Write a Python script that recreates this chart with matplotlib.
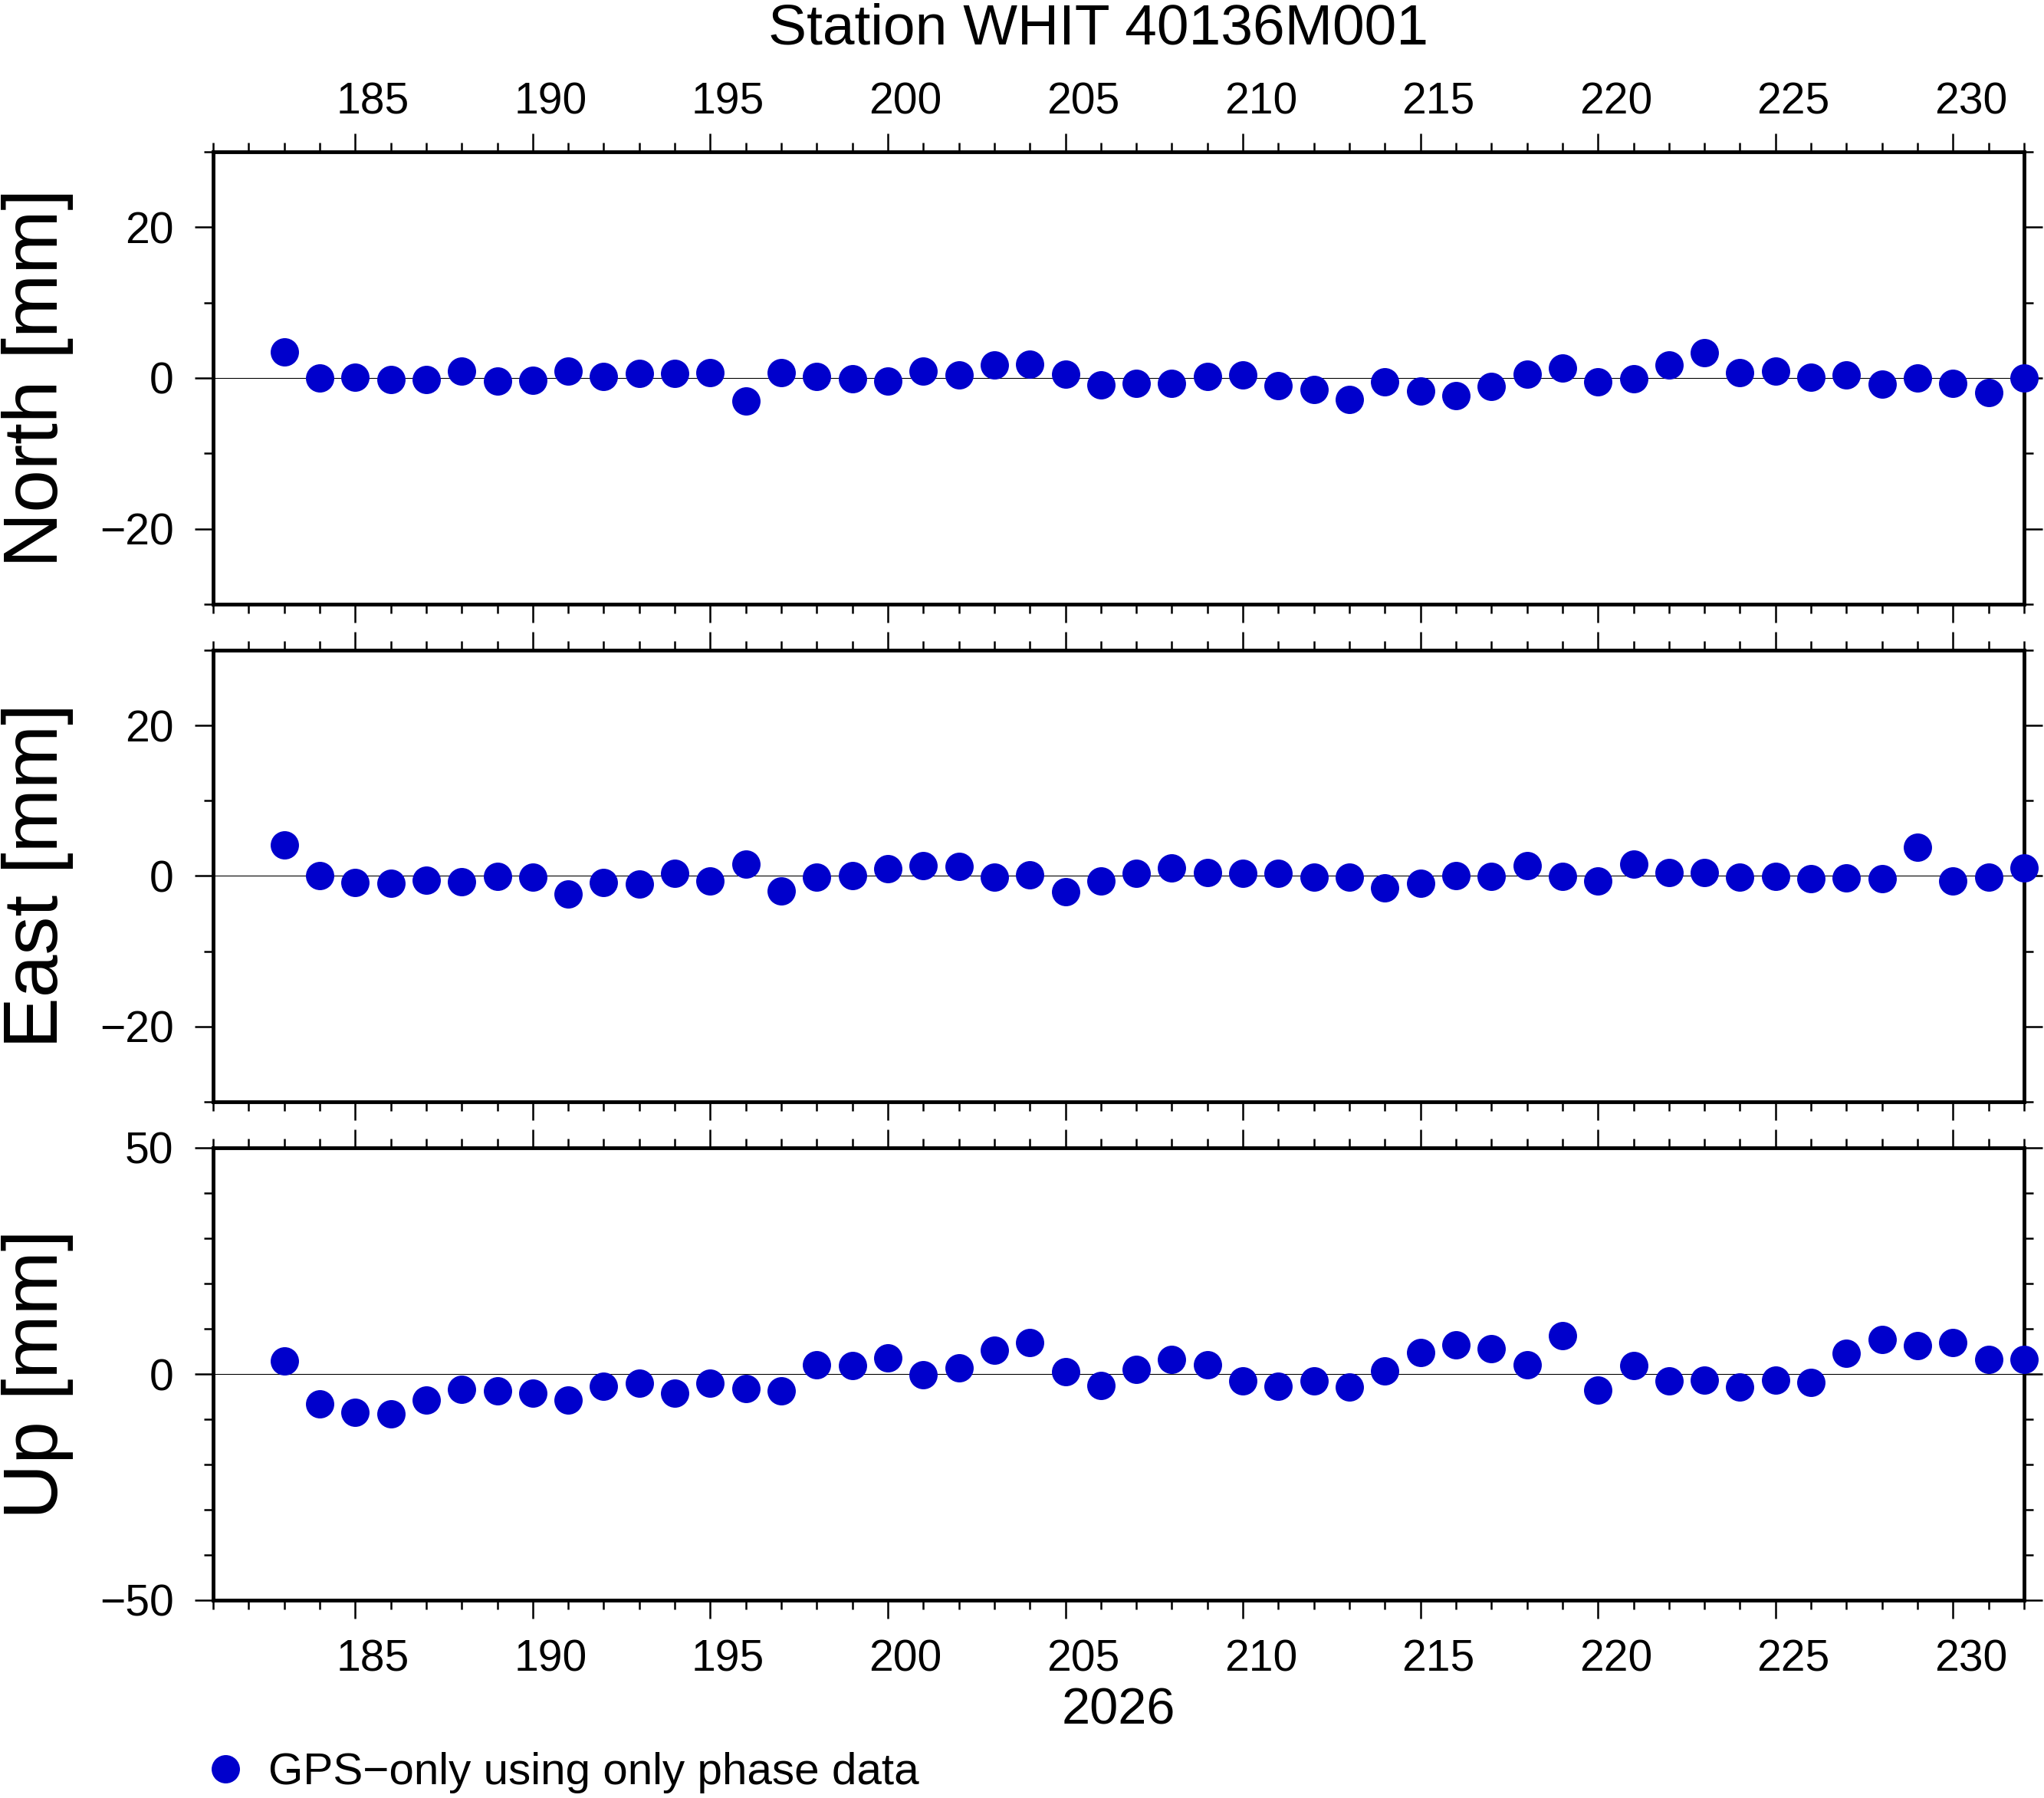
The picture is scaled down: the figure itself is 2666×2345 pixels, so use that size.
import matplotlib
matplotlib.use('Agg')
import matplotlib.pyplot as plt
import matplotlib.transforms as mtransforms
from matplotlib.ticker import MultipleLocator

plt.rcParams['font.family'] = ['Liberation Sans', 'DejaVu Sans']

# Дані станції (доба року 2026)
days = list(range(183, 233))
north = [3.5, 0.0, 0.1, -0.2, -0.2, 0.9, -0.4, -0.3, 0.9, 0.2, 0.6, 0.6, 0.7,
         -3.0, 0.7, 0.2, -0.1, -0.4, 0.9, 0.4, 1.7, 1.8, 0.5, -0.9,
         -0.7, -0.7, 0.2, 0.4, -1.0, -1.5, -2.8, -0.5, -1.7, -2.3, -1.1, 0.5,
         1.3, -0.5, -0.1, 1.7, 3.4, 0.7, 0.9, 0.1, 0.4, -0.8, 0.0, -0.7, -1.9, 0.0]
east = [4.1, 0.0, -0.9, -1.0, -0.6, -0.8, -0.1, -0.2, -2.4, -0.9, -1.1, 0.4, -0.7,
        1.6, -2.0, -0.2, 0.1, 1.0, 1.4, 1.3, -0.2, 0.2, -2.1, -0.7,
        0.4, 1.1, 0.5, 0.4, 0.4, -0.2, -0.2, -1.6, -1.0, 0.0, -0.1, 1.4,
        -0.1, -0.7, 1.6, 0.5, 0.5, -0.2, -0.1, -0.4, -0.3, -0.4, 3.8, -0.7, -0.2, 1.1]
up = [2.9, -6.6, -8.5, -8.8, -5.7, -3.4, -3.7, -4.2, -5.7, -2.7, -2.0, -4.2, -2.0,
      -3.2, -3.8, 2.1, 1.9, 3.5, -0.1, 1.4, 5.3, 7.0, 0.5, -2.5,
      1.1, 3.2, 2.1, -1.6, -2.7, -1.6, -2.9, 0.7, 4.7, 6.5, 5.6, 2.1,
      8.5, -3.6, 1.9, -1.6, -1.3, -2.9, -1.3, -1.8, 4.6, 7.7, 6.3, 7.0, 3.3, 3.3]

station = 'Station WHIT 40136M001'
year = '2026'
series_label = 'GPS\u2212only using only phase data'
panel_names = ['North [mm]', 'East [mm]', 'Up [mm]']
y_limits = [(-30, 30), (-30, 30), (-50, 50)]
y_major = [20, 20, 50]
x_limits = (181, 232)
x_label_days = list(range(185, 231, 5))

W, H = 2666, 2345
fig = plt.figure(figsize=(W / 100, H / 100), dpi=100)

left = 278 / W
width = (2640 - 278) / W
panel_px = [(198, 788), (848, 1437), (1497, 2087)]
axes = []
for top, bot in panel_px:
    axes.append(fig.add_axes([left, 1 - bot / H, width, (bot - top) / H]))

series = [north, east, up]
handle = None
for i, ax in enumerate(axes):
    ax.axhline(0, color='black', lw=0.8, zorder=1)
    h, = ax.plot(days, series[i], linestyle='none', marker='o', ms=26.6,
                 color='#0000cc', mew=0, clip_on=False, zorder=5)
    if handle is None:
        handle = h
    ax.set_xlim(*x_limits)
    ax.set_ylim(*y_limits[i])
    ax.set_xticks(x_label_days)
    ax.xaxis.set_minor_locator(MultipleLocator(1))
    ax.yaxis.set_major_locator(MultipleLocator(y_major[i]))
    ax.yaxis.set_minor_locator(MultipleLocator(10))
    for sp in ax.spines.values():
        sp.set_linewidth(3.5)
    ax.tick_params(which='both', direction='out', top=True, right=True,
                   width=1.8, labelsize=41)
    ax.tick_params(which='major', length=17)
    ax.tick_params(which='minor', length=8.6)
    ax.tick_params(axis='x', labelbottom=(i == 2), labeltop=(i == 0),
                   pad=(10 if i == 0 else 19))
    ax.tick_params(axis='y', pad=20, labelright=False)
    ax.set_ylabel(panel_names[i], fontsize=72)
    ax.yaxis.set_label_coords(-0.077, 0.5)

axes[2].set_xlabel(year, fontsize=48, labelpad=7)

# підписи днів зміщені на пів доби (по центру інтервалу)
day_w = width * fig.get_figwidth() / (x_limits[1] - x_limits[0])
offset = mtransforms.ScaledTranslation(day_w / 2, 0, fig.dpi_scale_trans)
for ax in axes:
    for tick in ax.xaxis.get_major_ticks():
        tick.label1.set_transform(tick.label1.get_transform() + offset)
        tick.label2.set_transform(tick.label2.get_transform() + offset)

fig.text(1433 / W, 1 - 57 / H, station, ha='center', va='baseline', fontsize=54)

fig.legend([handle], [series_label], loc='center left',
           bbox_to_anchor=(265 / W, 1 - 2312 / H), frameon=False, fontsize=42,
           handlelength=1.0, handletextpad=0.46, borderpad=0, borderaxespad=0)

fig.savefig('out.png', dpi=100)
